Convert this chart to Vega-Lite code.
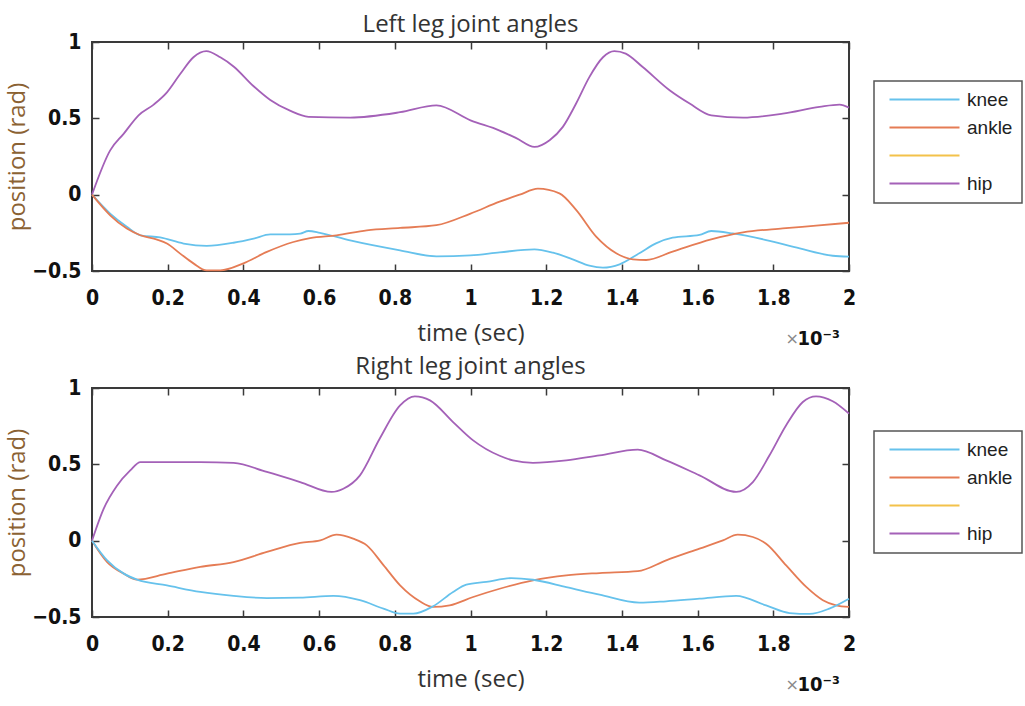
{
  "$schema": "https://vega.github.io/schema/vega-lite/v6.json",
  "background": "white",
  "padding": {"left": 4, "top": 12, "right": 2, "bottom": 2},
  "datasets": {
    "left": [
      {"j":"hip","t":0,"v":0},{"j":"hip","t":0.048,"v":0.29},{"j":"hip","t":0.084,"v":0.40},{"j":"hip","t":0.123,"v":0.52},{"j":"hip","t":0.163,"v":0.59},{"j":"hip","t":0.198,"v":0.67},{"j":"hip","t":0.233,"v":0.79},{"j":"hip","t":0.268,"v":0.90},{"j":"hip","t":0.302,"v":0.94},{"j":"hip","t":0.339,"v":0.90},{"j":"hip","t":0.374,"v":0.84},{"j":"hip","t":0.427,"v":0.71},{"j":"hip","t":0.471,"v":0.62},{"j":"hip","t":0.523,"v":0.55},{"j":"hip","t":0.572,"v":0.51},{"j":"hip","t":0.682,"v":0.505},{"j":"hip","t":0.814,"v":0.54},{"j":"hip","t":0.91,"v":0.585},{"j":"hip","t":1.0,"v":0.487},{"j":"hip","t":1.077,"v":0.42},{"j":"hip","t":1.121,"v":0.37},{"j":"hip","t":1.169,"v":0.313},{"j":"hip","t":1.209,"v":0.357},{"j":"hip","t":1.244,"v":0.444},{"j":"hip","t":1.279,"v":0.597},{"j":"hip","t":1.314,"v":0.77},{"j":"hip","t":1.35,"v":0.90},{"j":"hip","t":1.38,"v":0.94},{"j":"hip","t":1.41,"v":0.924},{"j":"hip","t":1.455,"v":0.836},{"j":"hip","t":1.526,"v":0.684},{"j":"hip","t":1.579,"v":0.597},{"j":"hip","t":1.636,"v":0.52},{"j":"hip","t":1.72,"v":0.505},{"j":"hip","t":1.825,"v":0.531},{"j":"hip","t":1.922,"v":0.575},{"j":"hip","t":1.975,"v":0.59},{"j":"hip","t":2.0,"v":0.57},
      {"j":"knee","t":0,"v":0},{"j":"knee","t":0.048,"v":-0.124},{"j":"knee","t":0.092,"v":-0.21},{"j":"knee","t":0.128,"v":-0.266},{"j":"knee","t":0.18,"v":-0.28},{"j":"knee","t":0.242,"v":-0.32},{"j":"knee","t":0.303,"v":-0.335},{"j":"knee","t":0.374,"v":-0.315},{"j":"knee","t":0.427,"v":-0.288},{"j":"knee","t":0.471,"v":-0.26},{"j":"knee","t":0.523,"v":-0.26},{"j":"knee","t":0.55,"v":-0.255},{"j":"knee","t":0.572,"v":-0.238},{"j":"knee","t":0.602,"v":-0.25},{"j":"knee","t":0.682,"v":-0.30},{"j":"knee","t":0.814,"v":-0.365},{"j":"knee","t":0.91,"v":-0.404},{"j":"knee","t":1.0,"v":-0.398},{"j":"knee","t":1.077,"v":-0.378},{"j":"knee","t":1.169,"v":-0.358},{"j":"knee","t":1.218,"v":-0.38},{"j":"knee","t":1.27,"v":-0.424},{"j":"knee","t":1.314,"v":-0.465},{"j":"knee","t":1.35,"v":-0.478},{"j":"knee","t":1.394,"v":-0.456},{"j":"knee","t":1.446,"v":-0.384},{"j":"knee","t":1.49,"v":-0.319},{"j":"knee","t":1.534,"v":-0.282},{"j":"knee","t":1.605,"v":-0.264},{"j":"knee","t":1.636,"v":-0.238},{"j":"knee","t":1.693,"v":-0.254},{"j":"knee","t":1.781,"v":-0.297},{"j":"knee","t":1.87,"v":-0.352},{"j":"knee","t":1.957,"v":-0.40},{"j":"knee","t":2.0,"v":-0.406},
      {"j":"ankle","t":0,"v":0},{"j":"ankle","t":0.048,"v":-0.135},{"j":"ankle","t":0.092,"v":-0.222},{"j":"ankle","t":0.128,"v":-0.266},{"j":"ankle","t":0.172,"v":-0.294},{"j":"ankle","t":0.198,"v":-0.32},{"j":"ankle","t":0.233,"v":-0.386},{"j":"ankle","t":0.268,"v":-0.45},{"j":"ankle","t":0.303,"v":-0.496},{"j":"ankle","t":0.339,"v":-0.496},{"j":"ankle","t":0.40,"v":-0.45},{"j":"ankle","t":0.462,"v":-0.375},{"j":"ankle","t":0.532,"v":-0.31},{"j":"ankle","t":0.576,"v":-0.284},{"j":"ankle","t":0.646,"v":-0.266},{"j":"ankle","t":0.726,"v":-0.234},{"j":"ankle","t":0.814,"v":-0.218},{"j":"ankle","t":0.91,"v":-0.20},{"j":"ankle","t":1.0,"v":-0.124},{"j":"ankle","t":1.077,"v":-0.046},{"j":"ankle","t":1.13,"v":0.0},{"j":"ankle","t":1.178,"v":0.039},{"j":"ankle","t":1.235,"v":0.008},{"j":"ankle","t":1.279,"v":-0.10},{"j":"ankle","t":1.332,"v":-0.275},{"j":"ankle","t":1.385,"v":-0.384},{"j":"ankle","t":1.429,"v":-0.424},{"j":"ankle","t":1.464,"v":-0.428},{"j":"ankle","t":1.534,"v":-0.373},{"j":"ankle","t":1.636,"v":-0.293},{"j":"ankle","t":1.72,"v":-0.247},{"j":"ankle","t":1.825,"v":-0.221},{"j":"ankle","t":1.913,"v":-0.203},{"j":"ankle","t":2.0,"v":-0.184}
    ],
    "right": [
      {"j":"hip","t":0,"v":0},{"j":"hip","t":0.031,"v":0.21},{"j":"hip","t":0.066,"v":0.36},{"j":"hip","t":0.101,"v":0.46},{"j":"hip","t":0.128,"v":0.515},{"j":"hip","t":0.198,"v":0.515},{"j":"hip","t":0.286,"v":0.515},{"j":"hip","t":0.374,"v":0.51},{"j":"hip","t":0.462,"v":0.45},{"j":"hip","t":0.55,"v":0.384},{"j":"hip","t":0.633,"v":0.319},{"j":"hip","t":0.664,"v":0.34},{"j":"hip","t":0.708,"v":0.428},{"j":"hip","t":0.76,"v":0.668},{"j":"hip","t":0.814,"v":0.886},{"j":"hip","t":0.853,"v":0.945},{"j":"hip","t":0.893,"v":0.919},{"j":"hip","t":0.954,"v":0.777},{"j":"hip","t":1.007,"v":0.657},{"j":"hip","t":1.077,"v":0.556},{"j":"hip","t":1.112,"v":0.526},{"j":"hip","t":1.165,"v":0.51},{"j":"hip","t":1.253,"v":0.526},{"j":"hip","t":1.341,"v":0.559},{"j":"hip","t":1.442,"v":0.596},{"j":"hip","t":1.517,"v":0.526},{"j":"hip","t":1.605,"v":0.428},{"j":"hip","t":1.702,"v":0.319},{"j":"hip","t":1.746,"v":0.384},{"j":"hip","t":1.79,"v":0.559},{"j":"hip","t":1.834,"v":0.756},{"j":"hip","t":1.878,"v":0.908},{"j":"hip","t":1.913,"v":0.945},{"j":"hip","t":1.957,"v":0.913},{"j":"hip","t":2.0,"v":0.832},
      {"j":"ankle","t":0,"v":0},{"j":"ankle","t":0.04,"v":-0.14},{"j":"ankle","t":0.084,"v":-0.216},{"j":"ankle","t":0.119,"v":-0.255},{"j":"ankle","t":0.198,"v":-0.216},{"j":"ankle","t":0.286,"v":-0.172},{"j":"ankle","t":0.374,"v":-0.14},{"j":"ankle","t":0.462,"v":-0.074},{"j":"ankle","t":0.55,"v":-0.015},{"j":"ankle","t":0.603,"v":0.002},{"j":"ankle","t":0.646,"v":0.039},{"j":"ankle","t":0.69,"v":0.013},{"j":"ankle","t":0.726,"v":-0.031},{"j":"ankle","t":0.77,"v":-0.16},{"j":"ankle","t":0.814,"v":-0.293},{"j":"ankle","t":0.866,"v":-0.397},{"j":"ankle","t":0.901,"v":-0.434},{"j":"ankle","t":0.945,"v":-0.424},{"j":"ankle","t":1.007,"v":-0.369},{"j":"ankle","t":1.077,"v":-0.315},{"j":"ankle","t":1.165,"v":-0.26},{"j":"ankle","t":1.253,"v":-0.227},{"j":"ankle","t":1.341,"v":-0.212},{"j":"ankle","t":1.442,"v":-0.20},{"j":"ankle","t":1.517,"v":-0.129},{"j":"ankle","t":1.605,"v":-0.052},{"j":"ankle","t":1.667,"v":0.002},{"j":"ankle","t":1.706,"v":0.039},{"j":"ankle","t":1.746,"v":0.024},{"j":"ankle","t":1.781,"v":-0.02},{"j":"ankle","t":1.834,"v":-0.162},{"j":"ankle","t":1.887,"v":-0.303},{"j":"ankle","t":1.931,"v":-0.39},{"j":"ankle","t":1.966,"v":-0.424},{"j":"ankle","t":2.0,"v":-0.434},
      {"j":"knee","t":0,"v":0},{"j":"knee","t":0.04,"v":-0.129},{"j":"knee","t":0.084,"v":-0.216},{"j":"knee","t":0.119,"v":-0.255},{"j":"knee","t":0.198,"v":-0.293},{"j":"knee","t":0.286,"v":-0.336},{"j":"knee","t":0.374,"v":-0.362},{"j":"knee","t":0.462,"v":-0.376},{"j":"knee","t":0.55,"v":-0.373},{"j":"knee","t":0.638,"v":-0.362},{"j":"knee","t":0.708,"v":-0.39},{"j":"knee","t":0.77,"v":-0.445},{"j":"knee","t":0.814,"v":-0.478},{"j":"knee","t":0.849,"v":-0.478},{"j":"knee","t":0.901,"v":-0.43},{"j":"knee","t":0.954,"v":-0.336},{"j":"knee","t":0.989,"v":-0.288},{"j":"knee","t":1.042,"v":-0.27},{"j":"knee","t":1.108,"v":-0.245},{"j":"knee","t":1.165,"v":-0.256},{"j":"knee","t":1.253,"v":-0.304},{"j":"knee","t":1.341,"v":-0.354},{"j":"knee","t":1.446,"v":-0.406},{"j":"knee","t":1.517,"v":-0.397},{"j":"knee","t":1.605,"v":-0.38},{"j":"knee","t":1.702,"v":-0.362},{"j":"knee","t":1.781,"v":-0.424},{"j":"knee","t":1.843,"v":-0.474},{"j":"knee","t":1.896,"v":-0.48},{"j":"knee","t":1.948,"v":-0.445},{"j":"knee","t":2.0,"v":-0.38}
    ],
    "note": [{"t": 2, "v": -0.5, "mult": "×", "exp": "10⁻³"}]
  },
  "config": {
    "view": {"stroke": "#3a3a3a", "strokeWidth": 2},
    "title": {"font": "Open Sans", "fontSize": 24, "fontWeight": "normal", "color": "#333333", "anchor": "middle"},
    "axis": {
      "grid": false, "domain": false,
      "labelFont": "DejaVu Sans Condensed", "labelFontWeight": "bold", "labelFontSize": 21, "labelColor": "#111111",
      "labelFlush": false, "labelOverlap": false,
      "tickColor": "#3a3a3a", "tickWidth": 1.5, "tickSize": -7,
      "titleFont": "Open Sans", "titleFontSize": 24, "titleFontWeight": "normal", "titleColor": "#333333"
    },
    "legend": {
      "orient": "none", "legendX": 782,
      "symbolType": "M-1,0H9", "symbolSize": 196, "symbolStrokeWidth": 2, "symbolFillColor": "transparent", "symbolOffset": 4,
      "labelFont": "Liberation Sans", "labelFontSize": 19, "labelColor": "#222222", "labelOffset": 61,
      "rowPadding": 8, "padding": 9, "strokeColor": "#555555", "strokeWidth": 1.5
    }
  },
  "resolve": {"legend": {"color": "independent"}},
  "spacing": 4,
  "vconcat": [
    {
      "title": {"text": "Left leg joint angles", "offset": -6},
      "width": 757, "height": 229,
      "resolve": {"axis": {"x": "independent", "y": "independent"}},
      "layer": [
        {
          "data": {"name": "left"},
          "mark": {"type": "line", "strokeWidth": 1.8, "interpolate": "monotone"},
          "encoding": {
            "x": {"field": "t", "type": "quantitative", "scale": {"domain": [0, 2], "nice": false, "zero": false},
                  "axis": {"orient": "bottom", "title": "time (sec)", "values": [0,0.2,0.4,0.6,0.8,1,1.2,1.4,1.6,1.8,2], "format": ".1~f", "labelPadding": 23, "titlePadding": 13}},
            "y": {"field": "v", "type": "quantitative", "scale": {"domain": [-0.5, 1], "nice": false, "zero": false},
                  "axis": {"orient": "left", "title": "position (rad)", "titleColor": "#8B6233", "values": [-0.5,0,0.5,1], "format": ".1~f", "labelPadding": 18, "titlePadding": 2}},
            "color": {"field": "j", "type": "nominal",
                      "scale": {"domain": ["knee", "ankle", "blank", "hip"], "range": ["#66C2EC", "#E57C55", "#F3C24A", "#A461B8"]},
                      "legend": {"title": null, "legendY": 39, "labelExpr": "datum.label == 'blank' ? '' : datum.label"}}
          }
        },
        {
          "data": {"name": "note"},
          "mark": {"type": "text", "align": "right", "baseline": "alphabetic", "dx": -9, "dy": 74, "font": "DejaVu Sans Condensed", "fontWeight": "bold", "fontSize": 20, "color": "#111111"},
          "encoding": {
            "x": {"field": "t", "type": "quantitative", "axis": {"orient": "top", "labels": false, "title": null, "values": [0,0.2,0.4,0.6,0.8,1,1.2,1.4,1.6,1.8,2]}},
            "y": {"field": "v", "type": "quantitative", "axis": {"orient": "right", "labels": false, "title": null, "values": [-0.5,0,0.5,1]}},
            "text": {"field": "exp"}
          }
        },
        {
          "data": {"name": "note"},
          "mark": {"type": "text", "align": "right", "baseline": "alphabetic", "dx": -50, "dy": 73, "font": "DejaVu Sans", "fontSize": 16, "color": "#8a8a8a"},
          "encoding": {
            "x": {"field": "t", "type": "quantitative", "axis": null},
            "y": {"field": "v", "type": "quantitative", "axis": null},
            "text": {"field": "mult"}
          }
        }
      ]
    },
    {
      "title": {"text": "Right leg joint angles", "offset": -2},
      "width": 757, "height": 229,
      "resolve": {"axis": {"x": "independent", "y": "independent"}},
      "layer": [
        {
          "data": {"name": "right"},
          "mark": {"type": "line", "strokeWidth": 1.8, "interpolate": "monotone"},
          "encoding": {
            "x": {"field": "t", "type": "quantitative", "scale": {"domain": [0, 2], "nice": false, "zero": false},
                  "axis": {"orient": "bottom", "title": "time (sec)", "values": [0,0.2,0.4,0.6,0.8,1,1.2,1.4,1.6,1.8,2], "format": ".1~f", "labelPadding": 23, "titlePadding": 13}},
            "y": {"field": "v", "type": "quantitative", "scale": {"domain": [-0.5, 1], "nice": false, "zero": false},
                  "axis": {"orient": "left", "title": "position (rad)", "titleColor": "#8B6233", "values": [-0.5,0,0.5,1], "format": ".1~f", "labelPadding": 18, "titlePadding": 2}},
            "color": {"field": "j", "type": "nominal",
                      "scale": {"domain": ["knee", "ankle", "blank", "hip"], "range": ["#66C2EC", "#E57C55", "#F3C24A", "#A461B8"]},
                      "legend": {"title": null, "legendY": 43, "labelExpr": "datum.label == 'blank' ? '' : datum.label"}}
          }
        },
        {
          "data": {"name": "note"},
          "mark": {"type": "text", "align": "right", "baseline": "alphabetic", "dx": -9, "dy": 74, "font": "DejaVu Sans Condensed", "fontWeight": "bold", "fontSize": 20, "color": "#111111"},
          "encoding": {
            "x": {"field": "t", "type": "quantitative", "axis": {"orient": "top", "labels": false, "title": null, "values": [0,0.2,0.4,0.6,0.8,1,1.2,1.4,1.6,1.8,2]}},
            "y": {"field": "v", "type": "quantitative", "axis": {"orient": "right", "labels": false, "title": null, "values": [-0.5,0,0.5,1]}},
            "text": {"field": "exp"}
          }
        },
        {
          "data": {"name": "note"},
          "mark": {"type": "text", "align": "right", "baseline": "alphabetic", "dx": -50, "dy": 73, "font": "DejaVu Sans", "fontSize": 16, "color": "#8a8a8a"},
          "encoding": {
            "x": {"field": "t", "type": "quantitative", "axis": null},
            "y": {"field": "v", "type": "quantitative", "axis": null},
            "text": {"field": "mult"}
          }
        }
      ]
    }
  ]
}
